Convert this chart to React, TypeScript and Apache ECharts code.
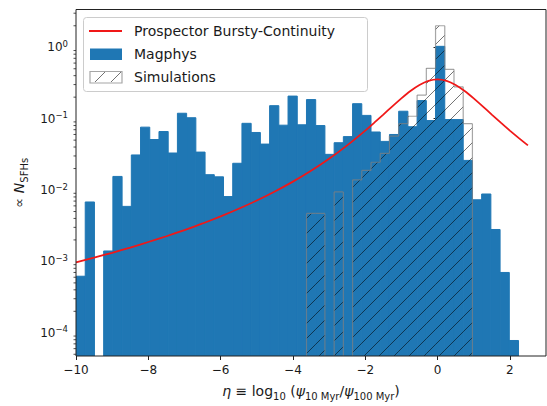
import React, { useEffect, useRef } from 'react';
import * as echarts from 'echarts';

// Histogram bins: 48 bins of equal width starting at eta = -10
const BIN_START = -10;
const BIN_WIDTH = 0.255;

const MAGPHYS = [
  6.2e-4, 6.8e-3, 0, 1.4e-3, 0.0155, 5.9e-3, 0.031, 0.076, 0.051, 0.066,
  0.033, 0.119, 0.103, 0.034, 0.0164, 0.0153, 0.0081, 0.0237, 0.086, 0.064,
  0.044, 0.152, 0.081, 0.207, 0.082, 0.185, 0.08, 0.0316, 0.046, 0.056,
  0.162, 0.111, 0.065, 0.048, 0.06, 0.127, 0.077, 0.179, 0.094, 1.03,
  0.097, 0.097, 0.026, 0.0073, 0.0088, 0.0028, 0.0007, 7.8e-5,
];

const SIMULATIONS = [
  0, 0, 0, 0, 0, 0, 0, 0, 0, 0,
  0, 0, 0, 0, 0, 0, 0, 0, 0, 0,
  0, 0, 0, 0, 0, 0.0047, 0.0047, 0, 0.0094, 0,
  0.0139, 0.0188, 0.0245, 0.0327, 0.057, 0.085, 0.108, 0.214, 0.507, 2.0,
  0.491, 0.279, 0.085, 0, 0, 0, 0, 0,
];

const PROSPECTOR_X = [
  -10, -9.5, -9, -8.5, -8, -7.5, -7, -6.5, -6, -5.5, -5, -4.5, -4, -3.5, -3, -2.5,
  -2, -1.75, -1.5, -1.25, -1, -0.75, -0.5, -0.25, 0, 0.25, 0.5, 0.75, 1, 1.25, 1.5,
  1.75, 2, 2.25, 2.5,
];
const PROSPECTOR_Y = [
  9.7e-4, 1.13e-3, 1.32e-3, 1.56e-3, 1.87e-3, 2.25e-3, 2.75e-3, 3.4e-3, 4.27e-3,
  5.46e-3, 7.13e-3, 9.53e-3, 0.0131, 0.0186, 0.0274, 0.0422,
  0.068, 0.0878, 0.114, 0.1487, 0.1925, 0.2438, 0.296, 0.3376, 0.354, 0.3376, 0.296,
  0.2438, 0.1925, 0.1487, 0.114, 0.0878, 0.068, 0.0533, 0.0422,
];

const X_MIN = -10;
const X_MAX = 3;
const X_INTERVAL = 2;
const Y_MIN = 4.73e-5;
const Y_MAX = 3.38;

const FONT = 'DejaVu Sans';
const TEXT = '#1a1a1a';
const BLUE = '#1f77b4';
const RED = '#f01818';
const HATCH = 'rgba(0,0,0,0.55)';
const OUTLINE = 'rgba(128,128,128,0.7)';
const HATCH_SPACING = 15;

function hatchLines(x0: number, x1: number, yt: number, yb: number, spacing: number, style: any) {
  const out: any[] = [];
  const cStart = Math.ceil((x0 + yt) / spacing) * spacing;
  for (let c = cStart; c <= x1 + yb; c += spacing) {
    const xa = Math.max(x0, c - yb);
    const xb = Math.min(x1, c - yt);
    if (xb > xa) {
      out.push({ type: 'line', shape: { x1: xa, y1: c - xa, x2: xb, y2: c - xb }, style });
    }
  }
  return out;
}

export default function App() {
  const ref = useRef<HTMLDivElement>(null);

  useEffect(() => {
    if (!ref.current) return;
    const chart = echarts.init(ref.current, undefined, { renderer: 'svg' });

    const magData = MAGPHYS.map((v, k) => [BIN_START + k * BIN_WIDTH, BIN_START + (k + 1) * BIN_WIDTH, v, k]).filter((d) => d[2] > 0);
    const simData = SIMULATIONS.map((v, k) => [BIN_START + k * BIN_WIDTH, BIN_START + (k + 1) * BIN_WIDTH, v, k]).filter((d) => d[2] > 0);
    const lineData = PROSPECTOR_X.map((x, i) => [x, PROSPECTOR_Y[i]]);

    const minor: number[][] = [];
    for (let e = -5; e <= 0; e++) {
      for (let m = 2; m <= 9; m++) {
        const v = m * Math.pow(10, e);
        if (v > Y_MIN && v < Y_MAX) minor.push([X_MIN, v]);
      }
    }

    const hatchStyle = { stroke: HATCH, lineWidth: 1, fill: null };
    const outlineStyle = { stroke: OUTLINE, lineWidth: 1.2, fill: null };

    const option: any = {
      animation: false,
      grid: {
        left: 76, top: 9.5, right: 1, bottom: 46,
        show: true, borderColor: '#222', borderWidth: 1, backgroundColor: 'transparent', z: 10,
      },
      xAxis: {
        type: 'value', min: X_MIN, max: X_MAX, interval: X_INTERVAL,
        axisLine: { show: false },
        splitLine: { show: false },
        axisTick: { show: true, inside: false, length: 4, lineStyle: { color: '#222', width: 1 } },
        axisLabel: {
          show: true, margin: 8, fontSize: 12, fontFamily: FONT, color: TEXT, showMaxLabel: false,
          formatter: (v: number) => (v < 0 ? '−' + Math.abs(v) : String(v)),
        },
        name: '{i|η}{r| ≡ log}{s|10}{r| (}{i|ψ}{s|10 Myr}{r|/}{i|ψ}{s|100 Myr}{r|)}',
        nameLocation: 'middle',
        nameGap: 25,
        nameTextStyle: {
          fontFamily: FONT, fontSize: 14, color: TEXT, lineHeight: 20,
          rich: {
            i: { fontFamily: FONT, fontSize: 14, fontStyle: 'italic', color: TEXT, lineHeight: 20 },
            r: { fontFamily: FONT, fontSize: 14, color: TEXT, lineHeight: 20 },
            s: { fontFamily: FONT, fontSize: 10, color: TEXT, lineHeight: 10, verticalAlign: 'bottom' },
          },
        },
      },
      yAxis: {
        type: 'log', logBase: 10, min: Y_MIN, max: Y_MAX,
        axisLine: { show: false },
        splitLine: { show: false },
        axisTick: { show: true, inside: false, length: 4, lineStyle: { color: '#222', width: 1 } },
        axisLabel: {
          show: true, margin: 8, fontFamily: FONT, color: TEXT,
          showMinLabel: false, showMaxLabel: false,
          formatter: (v: number) => {
            const l = Math.log10(v);
            const e = Math.round(l);
            if (Math.abs(l - e) > 0.01) return '';
            const s = e < 0 ? '−' + Math.abs(e) : String(e);
            return '{b|10}{s|' + s + '}';
          },
          rich: {
            b: { fontFamily: FONT, fontSize: 12, color: TEXT, lineHeight: 16 },
            s: { fontFamily: FONT, fontSize: 8.5, color: TEXT, lineHeight: 9, verticalAlign: 'top' },
          },
        },
        name: '{a|∝ }{n|N}{s|SFHs}',
        nameLocation: 'middle',
        nameRotate: 90,
        nameGap: 46,
        nameTextStyle: {
          fontFamily: FONT, fontSize: 14, color: TEXT, lineHeight: 20,
          rich: {
            a: { fontFamily: FONT, fontSize: 14, color: TEXT, lineHeight: 20 },
            n: { fontFamily: FONT, fontSize: 14, fontStyle: 'italic', color: TEXT, lineHeight: 20 },
            s: { fontFamily: FONT, fontSize: 10, color: TEXT, lineHeight: 10, verticalAlign: 'bottom' },
          },
        },
      },
      series: [
        {
          name: 'Magphys',
          type: 'custom',
          clip: true,
          z: 2,
          encode: { x: [0, 1], y: 2 },
          data: magData,
          renderItem: (params: any, api: any) => {
            const p0 = api.coord([api.value(0), api.value(2)]);
            const p1 = api.coord([api.value(1), Y_MIN]);
            return {
              type: 'rect',
              shape: { x: p0[0], y: p0[1], width: p1[0] - p0[0], height: p1[1] - p0[1] },
              style: { fill: BLUE, stroke: BLUE, lineWidth: 1 },
            };
          },
        },
        {
          name: 'Simulations',
          type: 'custom',
          clip: true,
          z: 3,
          encode: { x: [0, 1], y: 2 },
          data: simData,
          renderItem: (params: any, api: any) => {
            const k = api.value(3);
            const v = api.value(2);
            const p0 = api.coord([api.value(0), v]);
            const p1 = api.coord([api.value(1), Y_MIN]);
            const prev = k > 0 ? SIMULATIONS[k - 1] : 0;
            const next = k < SIMULATIONS.length - 1 ? SIMULATIONS[k + 1] : 0;
            const yPrev = prev > 0 ? api.coord([api.value(0), prev])[1] : p1[1];
            const children: any[] = hatchLines(p0[0], p1[0], p0[1], p1[1], HATCH_SPACING, hatchStyle);
            children.push({ type: 'line', shape: { x1: p0[0], y1: p0[1], x2: p1[0], y2: p0[1] }, style: outlineStyle });
            children.push({ type: 'line', shape: { x1: p0[0], y1: p0[1], x2: p0[0], y2: yPrev }, style: outlineStyle });
            if (!(next > 0)) {
              children.push({ type: 'line', shape: { x1: p1[0], y1: p0[1], x2: p1[0], y2: p1[1] }, style: outlineStyle });
            }
            return { type: 'group', children };
          },
        },
        {
          name: 'Prospector Bursty-Continuity',
          type: 'line',
          z: 5,
          data: lineData,
          smooth: 0.2,
          showSymbol: false,
          symbol: 'none',
          lineStyle: { color: RED, width: 1.8 },
        },
        {
          name: 'minorTicks',
          type: 'custom',
          clip: false,
          silent: true,
          z: 11,
          encode: { x: 0, y: 1 },
          data: minor,
          renderItem: (params: any, api: any) => {
            const p = api.coord([api.value(0), api.value(1)]);
            return {
              type: 'line',
              shape: { x1: p[0] - 2.5, y1: p[1], x2: p[0], y2: p[1] },
              style: { stroke: '#222', lineWidth: 0.8 },
            };
          },
        },
      ],
      graphic: [
        {
          type: 'group',
          z: 100,
          children: [
            {
              type: 'rect',
              shape: { x: 83.5, y: 17.5, width: 284, height: 74, r: 3 },
              style: { fill: 'rgba(255,255,255,0.8)', stroke: '#cccccc', lineWidth: 1 },
            },
            { type: 'line', shape: { x1: 89, y1: 31, x2: 122, y2: 31 }, style: { stroke: RED, lineWidth: 1.8 } },
            { type: 'rect', shape: { x: 90, y: 48.5, width: 32, height: 11.5 }, style: { fill: BLUE } },
            { type: 'rect', shape: { x: 90, y: 71.5, width: 32, height: 11.5 }, style: { fill: 'transparent', stroke: OUTLINE, lineWidth: 1.2 } },
            { type: 'line', shape: { x1: 95, y1: 82, x2: 105, y2: 72 }, style: { stroke: HATCH, lineWidth: 1 } },
            { type: 'line', shape: { x1: 111, y1: 82, x2: 121, y2: 72 }, style: { stroke: HATCH, lineWidth: 1 } },
            { type: 'text', x: 134, y: 31, style: { text: 'Prospector Bursty-Continuity', fontFamily: FONT, fontSize: 14, fill: TEXT, verticalAlign: 'middle' } },
            { type: 'text', x: 134, y: 54, style: { text: 'Magphys', fontFamily: FONT, fontSize: 14, fill: TEXT, verticalAlign: 'middle' } },
            { type: 'text', x: 134, y: 77, style: { text: 'Simulations', fontFamily: FONT, fontSize: 14, fill: TEXT, verticalAlign: 'middle' } },
          ],
        },
      ],
    };

    chart.setOption(option);
    return () => chart.dispose();
  }, []);

  return (
    <div
      ref={ref}
      style={{ position: 'fixed', left: 0, top: 0, width: 547, height: 406, background: '#fff' }}
    />
  );
}
